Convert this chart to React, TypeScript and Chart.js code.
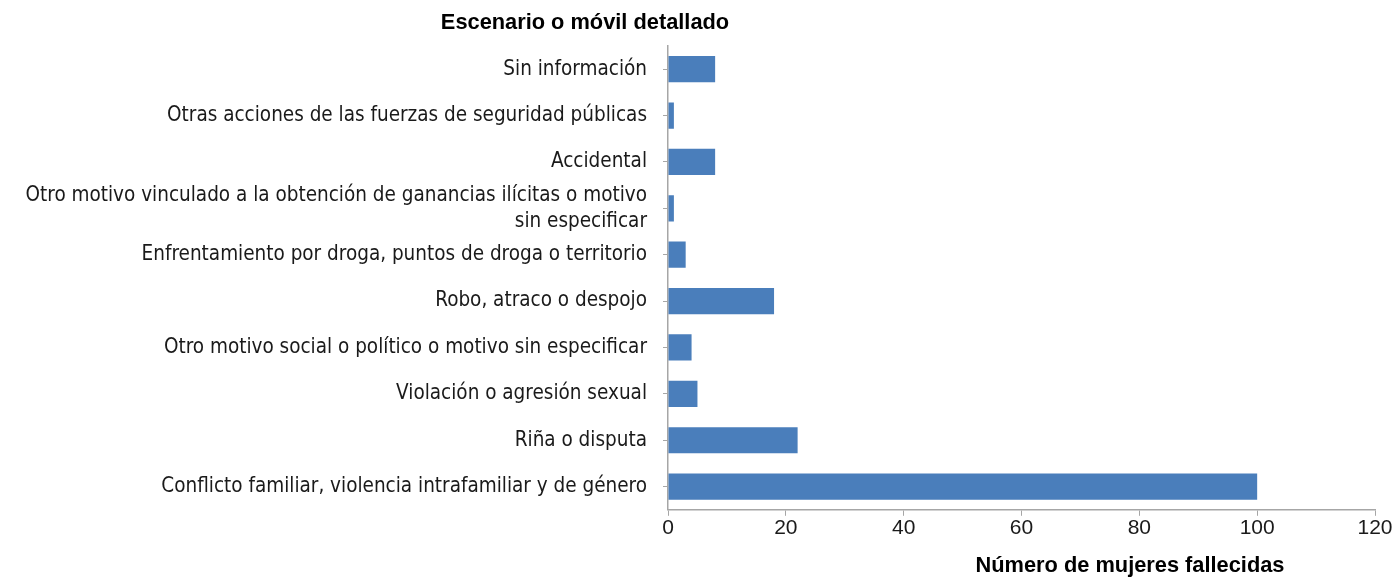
import React, { useEffect, useRef } from "react";
import { Chart, registerables } from "chart.js";

Chart.register(...registerables);

const categories: (string | string[])[] = [
  "Sin información",
  "Otras acciones de las fuerzas de seguridad públicas",
  "Accidental",
  [
    "Otro motivo vinculado a la obtención de ganancias ilícitas o motivo",
    "sin especificar",
  ],
  "Enfrentamiento por droga, puntos de droga o territorio",
  "Robo, atraco o despojo",
  "Otro motivo social o político o motivo sin especificar",
  "Violación o agresión sexual",
  "Riña o disputa",
  "Conflicto familiar, violencia intrafamiliar y de género",
];

const values: number[] = [8, 1, 8, 1, 3, 18, 4, 5, 22, 100];

const xTicks: number[] = [0, 20, 40, 60, 80, 100, 120];

const yTitle = "Escenario o móvil detallado";
const xTitle = "Número de mujeres fallecidas";

const labelFont = "'DejaVu Sans Condensed', 'Liberation Sans Narrow', sans-serif";
const titleFont = "'Liberation Sans', Arial, sans-serif";

const titlesPlugin = {
  id: "titles",
  afterDraw(chart: any) {
    const { ctx, chartArea } = chart;
    ctx.save();
    ctx.fillStyle = "#000";
    ctx.font = `bold 21.8px ${titleFont}`;
    ctx.textAlign = "center";
    ctx.textBaseline = "middle";
    ctx.fillText(yTitle, chartArea.left - 83, 23);
    ctx.fillText(xTitle, chartArea.right - 245, chartArea.bottom + 56);
    ctx.restore();
  },
};

export default function App() {
  const ref = useRef<HTMLCanvasElement | null>(null);

  useEffect(() => {
    document.body.style.margin = "0";
    if (!ref.current) return;
    const chart = new Chart(ref.current, {
      type: "bar",
      data: {
        labels: categories,
        datasets: [
          {
            data: values,
            backgroundColor: "#4a7ebb",
            borderWidth: 0,
            barPercentage: 0.565,
            categoryPercentage: 1,
          },
        ],
      },
      options: {
        indexAxis: "y",
        animation: false,
        responsive: false,
        maintainAspectRatio: false,
        layout: { padding: { left: 0, right: 0, top: 46, bottom: 36 } },
        plugins: {
          legend: { display: false },
          tooltip: { enabled: false },
          title: { display: false },
        },
        scales: {
          x: {
            min: 0,
            max: 120,
            afterBuildTicks: (scale: any) => {
              scale.ticks = xTicks.map((v) => ({ value: v }));
            },
            afterFit: (scale: any) => {
              scale.paddingRight = 20;
            },
            grid: {
              display: true,
              drawOnChartArea: false,
              drawTicks: true,
              tickLength: 6,
              color: "#a6a6a6",
            },
            border: { display: true, color: "#a6a6a6", width: 1.5 },
            ticks: {
              color: "#1a1a1a",
              font: { family: titleFont, size: 21 },
              padding: 0,
              maxRotation: 0,
            },
          },
          y: {
            afterFit: (scale: any) => {
              scale.width = 668;
            },
            grid: {
              display: true,
              drawOnChartArea: false,
              drawTicks: true,
              tickLength: 5,
              offset: false,
              color: "#a6a6a6",
            },
            border: { display: true, color: "#a6a6a6", width: 1.5 },
            ticks: {
              color: "#1a1a1a",
              font: { family: labelFont, size: 20.5, lineHeight: 1.27 },
              padding: 16,
              autoSkip: false,
            },
          },
        },
      },
      plugins: [titlesPlugin],
    });
    return () => chart.destroy();
  }, []);

  return (
    <div style={{ width: 1395, height: 577 }}>
      <canvas ref={ref} width={1395} height={577} style={{ display: "block" }} />
    </div>
  );
}
